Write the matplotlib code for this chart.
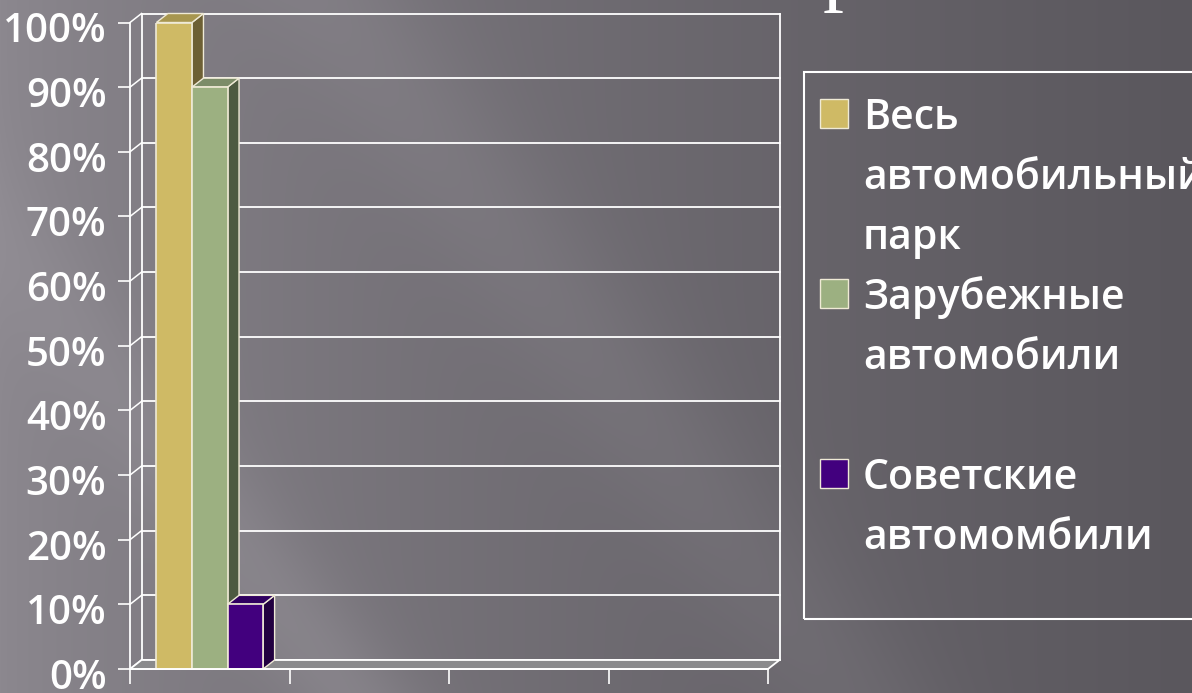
import numpy as np
import matplotlib
matplotlib.use("Agg")
import matplotlib.pyplot as plt
import matplotlib.transforms as mtransforms

# data
n_categories = 4
series_names = ["Весь\nавтомобильный\nпарк", "Зарубежные\nавтомобили\n", "Советские\nавтомомбили"]
series_values = [1.00, 0.90, 0.10]   # only the first category has data
yticks = np.arange(0, 1.01, 0.1)

# style
front_cols = ["#cfba65", "#9cb081", "#42007e"]
top_cols = ["#a7964f", "#7c8c68", "#300060"]
side_cols = ["#6d6034", "#4d5a41", "#220040"]
edge = "#efead6"
W, H = 1192, 693
ff = ["Open Sans", "DejaVu Sans"]

fig = plt.figure(figsize=(W / 100, H / 100), dpi=100)

# background gradient
bg = fig.add_axes([0, 0, 1, 1])
bg.axis("off")
xx, yy = np.meshgrid(np.arange(W), np.arange(H))
t = np.clip(xx / W, 0, 1) ** 0.75
left = np.array([140, 136, 143])
right = np.array([90, 87, 93])
img = left[None, None, :] * (1 - t[..., None]) + right[None, None, :] * t[..., None]
streak = 14 * np.exp(-((xx - yy * 0.75 + 170) / 70.0) ** 2) * (yy / H)
streak += 8 * np.exp(-((xx - yy * 0.75 - 330) / 90.0) ** 2)
img = img + streak[..., None]
bg.imshow(np.clip(img, 0, 255).astype(np.uint8), extent=[0, 1, 0, 1], aspect="auto")
bg.set_xlim(0, 1)
bg.set_ylim(0, 1)

# main 3d-ish bar axes (front plane)
x0p, x1p, y0p, y1p = 130, 768, 669, 22.5
ax = fig.add_axes([x0p / W, (H - y0p) / H, (x1p - x0p) / W, (y0p - y1p) / H])
ax.patch.set_alpha(0)
ax.set_xlim(-0.5, n_categories - 0.5)
ax.set_ylim(0, 1)

cat_w = (x1p - x0p) / n_categories
dx = 11.5 / cat_w
dy = 9 / (y0p - y1p)
xl, xr = -0.5, n_categories - 0.5

# back wall gridlines + left wall slants
for v in yticks:
    ax.plot([xl + dx, xr + dx], [v + dy, v + dy], color="white", lw=1.3, zorder=1, clip_on=False)
    ax.plot([xl, xl + dx], [v, v + dy], color="white", lw=1.1, zorder=1, clip_on=False)
ax.plot([xl + dx, xl + dx], [dy, 1 + dy], color="white", lw=1.3, zorder=1, clip_on=False)
ax.plot([xr + dx, xr + dx], [dy, 1 + dy], color="white", lw=1.3, zorder=1, clip_on=False)

# floor
ax.fill([xl, xr, xr + dx, xl + dx], [0, 0, dy, dy], facecolor="#8a8a8c", edgecolor="white",
        lw=1.3, zorder=2, clip_on=False)

# bars
bw = 0.223
for i, (v, name) in enumerate(zip(series_values, series_names)):
    xc = 0 + (i - 1) * bw
    a, b = xc - bw / 2, xc + bw / 2
    ax.fill([b, b + dx, b + dx, b], [0, dy, v + dy, v], facecolor=side_cols[i], edgecolor=edge,
            lw=1.0, zorder=4, clip_on=False)
    ax.fill([a, b, b + dx, a + dx], [v, v, v + dy, v + dy], facecolor=top_cols[i], edgecolor=edge,
            lw=1.0, zorder=4, clip_on=False)
    ax.bar(xc, v, width=bw, color=front_cols[i], edgecolor=edge, lw=1.2, zorder=5, label=name)

# axes styling
for s in ["top", "right"]:
    ax.spines[s].set_visible(False)
for s in ["left", "bottom"]:
    ax.spines[s].set_color("white")
    ax.spines[s].set_linewidth(1.3)
    ax.spines[s].set_zorder(6)
ax.set_yticks(yticks)
ax.set_yticklabels([f"{int(round(v * 100))}%" for v in yticks], family=ff, fontweight="semibold",
                   fontsize=29, color="white")
ax.tick_params(axis="y", length=9, width=1.2, color="white", pad=8)
ax.set_xticks(np.arange(n_categories + 1) - 0.5)
ax.set_xticklabels([])
ax.tick_params(axis="x", length=11, width=1.2, color="white")
off = mtransforms.ScaledTranslation(0, -5 / 100, fig.dpi_scale_trans)
for lab in ax.get_yticklabels():
    lab.set_transform(lab.get_transform() + off)

# legend box drawn by hand
lx0, ly0, lx1, ly1 = 804, 72, 1200, 619
bg.add_patch(plt.Rectangle((lx0 / W, 1 - ly1 / H), (lx1 - lx0) / W, (ly1 - ly0) / H,
                           fill=False, edgecolor="white", lw=1.5, zorder=3))
line_h = 60
for i, name in enumerate(series_names):
    ytop = 118 + i * 3 * line_h
    bg.add_patch(plt.Rectangle((820 / W, 1 - (ytop + 10) / H), 28 / W, 29 / H,
                               facecolor=front_cols[i], edgecolor=edge, lw=1.0, zorder=4))
    for k, ln in enumerate(name.split("\n")):
        fig.text(863 / W, 1 - (ytop + k * line_h) / H, ln, family=ff, fontweight="semibold",
                 fontsize=29.5, color="white", va="center", ha="left")

# cut-off title glyph at the top edge
fig.text(823 / W, 1 + 5 / H, "р", family=["Liberation Serif", "DejaVu Serif"], fontsize=60,
         color="white", va="baseline", ha="left")

fig.savefig("out.png", dpi=100)
